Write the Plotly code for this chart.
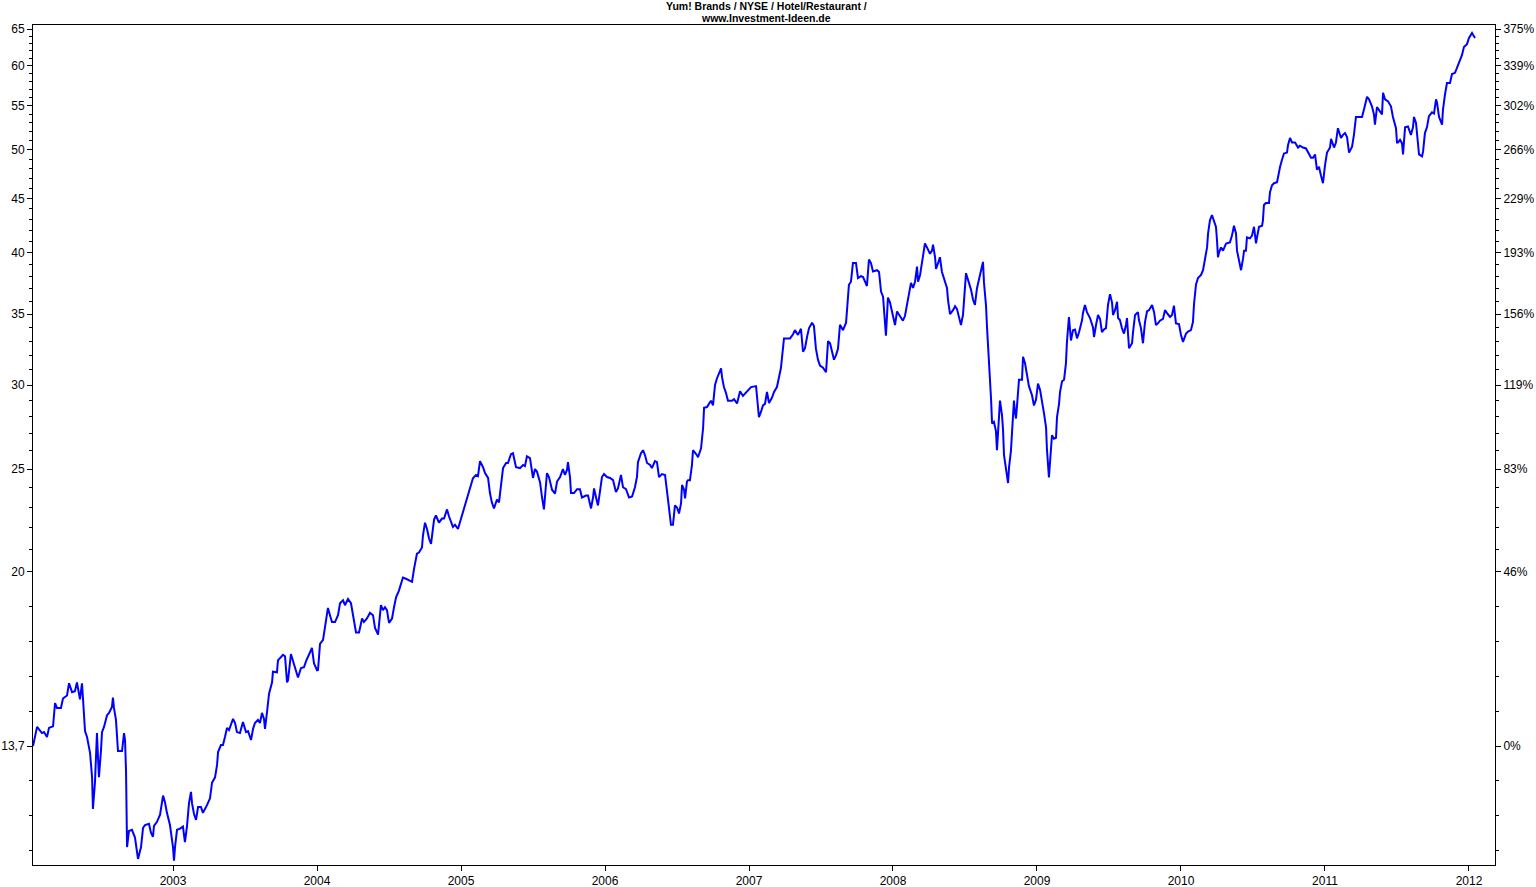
import plotly.graph_objects as go

# (decimal year, closing price)
y2002 = [(2002.028,13.70),(2002.056,14.28),(2002.090,14.09),(2002.104,14.12),(2002.125,13.97),(2002.139,14.25),(2002.167,14.30),(2002.181,15.04),(2002.194,14.88),(2002.222,14.88),(2002.236,15.19),(2002.264,15.29),(2002.278,15.70),(2002.299,15.40),(2002.319,15.43),(2002.333,15.73),(2002.354,15.16),(2002.368,15.70),(2002.375,15.19),(2002.389,14.15),(2002.403,13.97),(2002.424,13.50),(2002.438,12.80),(2002.444,11.95),(2002.458,12.65),(2002.472,14.09),(2002.479,13.38),(2002.486,12.80),(2002.500,13.58),(2002.507,14.12),(2002.521,14.28),(2002.542,14.65),(2002.556,14.72),(2002.576,14.91),(2002.583,15.22),(2002.590,14.88),(2002.604,14.50),(2002.611,13.88),(2002.618,13.55),(2002.646,13.55),(2002.660,14.09),(2002.667,13.88),(2002.674,12.95),(2002.681,11.00),(2002.694,11.39),(2002.715,11.42),(2002.736,11.23),(2002.757,10.72),(2002.778,11.00),(2002.792,11.47),(2002.806,11.54),(2002.833,11.57),(2002.847,11.35),(2002.861,11.25),(2002.868,11.52),(2002.889,11.62),(2002.910,11.80),(2002.931,12.30),(2002.944,12.13),(2002.958,11.85),(2002.979,11.54)]
y2003 = [(2003.000,11.00),(2003.007,10.68),(2003.014,11.00),(2003.028,11.42),(2003.049,11.45),(2003.069,11.50),(2003.083,11.12),(2003.097,11.50),(2003.111,12.10),(2003.125,12.40),(2003.132,12.10),(2003.146,11.82),(2003.160,11.67),(2003.174,12.00),(2003.194,12.00),(2003.208,11.85),(2003.236,12.05),(2003.257,12.23),(2003.271,12.65),(2003.292,12.80),(2003.306,13.15),(2003.313,13.52),(2003.333,13.73),(2003.347,13.73),(2003.361,13.97),(2003.375,14.25),(2003.389,14.18),(2003.417,14.53),(2003.431,14.40),(2003.444,14.12),(2003.465,14.09),(2003.486,14.43),(2003.507,14.12),(2003.521,14.15),(2003.542,13.88),(2003.556,14.22),(2003.569,14.40),(2003.590,14.50),(2003.604,14.40),(2003.618,14.72),(2003.632,14.53),(2003.639,14.22),(2003.653,14.75),(2003.667,15.35),(2003.688,15.73),(2003.694,16.10),(2003.722,16.08),(2003.729,16.50),(2003.764,16.70),(2003.778,16.65),(2003.792,15.73),(2003.799,15.80),(2003.819,16.73),(2003.840,16.40),(2003.854,16.16),(2003.868,15.90),(2003.889,16.23),(2003.910,16.26),(2003.924,16.47),(2003.944,16.70),(2003.965,16.95),(2003.979,16.40)]
y2004 = [(2004.000,16.15),(2004.007,16.16),(2004.021,17.10),(2004.042,17.25),(2004.056,17.70),(2004.076,18.49),(2004.090,18.20),(2004.104,17.93),(2004.125,17.93),(2004.146,18.20),(2004.160,18.68),(2004.181,18.80),(2004.194,18.60),(2004.215,18.85),(2004.236,18.68),(2004.250,18.20),(2004.271,17.53),(2004.292,17.53),(2004.313,18.07),(2004.326,17.93),(2004.347,18.07),(2004.368,18.30),(2004.389,18.20),(2004.403,17.70),(2004.424,17.45),(2004.444,18.60),(2004.458,18.40),(2004.472,18.52),(2004.486,18.40),(2004.500,17.90),(2004.521,18.07),(2004.535,18.52),(2004.549,18.92),(2004.569,19.20),(2004.597,19.75),(2004.618,19.70),(2004.639,19.65),(2004.660,19.57),(2004.674,20.13),(2004.694,20.80),(2004.708,20.85),(2004.729,21.08),(2004.736,21.65),(2004.750,22.25),(2004.764,21.95),(2004.778,21.50),(2004.792,21.25),(2004.806,21.90),(2004.813,22.40),(2004.826,22.60),(2004.847,22.25),(2004.868,22.45),(2004.882,22.45),(2004.903,22.90),(2004.917,22.55),(2004.944,22.05),(2004.958,22.15),(2004.979,21.95)]
y2005 = [(2005.000,22.45),(2005.014,22.75),(2005.042,23.50),(2005.063,23.90),(2005.083,24.50),(2005.104,24.68),(2005.118,24.62),(2005.132,25.43),(2005.153,25.10),(2005.167,24.78),(2005.188,24.52),(2005.201,23.73),(2005.215,23.23),(2005.229,22.95),(2005.250,23.40),(2005.264,23.25),(2005.285,24.57),(2005.292,25.05),(2005.313,25.33),(2005.326,25.33),(2005.347,25.82),(2005.361,25.87),(2005.382,25.10),(2005.410,25.05),(2005.431,25.22),(2005.444,25.16),(2005.458,25.70),(2005.479,25.60),(2005.500,24.52),(2005.514,25.00),(2005.528,24.85),(2005.549,24.28),(2005.563,23.50),(2005.576,22.90),(2005.583,23.50),(2005.597,24.78),(2005.611,24.57),(2005.632,23.90),(2005.653,23.70),(2005.667,24.33),(2005.688,24.57),(2005.708,25.00),(2005.722,24.68),(2005.736,24.95),(2005.743,25.38),(2005.757,24.57),(2005.764,23.73),(2005.785,23.73),(2005.806,23.93),(2005.826,23.93),(2005.840,23.50),(2005.868,23.60),(2005.882,23.60),(2005.896,23.25),(2005.903,22.95),(2005.917,23.50),(2005.924,23.97),(2005.938,23.50),(2005.951,23.10),(2005.965,23.80),(2005.979,24.57),(2005.993,24.73)]
y2006 = [(2006.014,24.57),(2006.035,24.52),(2006.056,24.40),(2006.076,23.78),(2006.090,23.97),(2006.111,24.68),(2006.125,24.03),(2006.146,23.93),(2006.167,23.50),(2006.188,23.55),(2006.208,24.03),(2006.222,24.57),(2006.229,25.38),(2006.250,25.87),(2006.264,26.04),(2006.278,25.76),(2006.292,25.33),(2006.313,25.22),(2006.326,25.05),(2006.347,25.43),(2006.361,25.38),(2006.375,24.57),(2006.396,24.73),(2006.417,24.68),(2006.431,23.90),(2006.444,23.00),(2006.458,22.15),(2006.472,22.15),(2006.486,23.10),(2006.500,23.00),(2006.514,22.70),(2006.528,23.20),(2006.535,24.15),(2006.549,23.90),(2006.556,23.45),(2006.569,24.33),(2006.576,24.40),(2006.590,24.40),(2006.604,25.22),(2006.611,26.04),(2006.639,25.76),(2006.646,25.65),(2006.667,26.15),(2006.681,27.30),(2006.688,28.55),(2006.708,28.60),(2006.722,28.80),(2006.736,29.00),(2006.750,28.70),(2006.764,30.00),(2006.778,30.45),(2006.792,30.80),(2006.806,31.10),(2006.813,30.50),(2006.826,29.87),(2006.840,29.50),(2006.854,29.00),(2006.882,29.00),(2006.896,29.10),(2006.917,28.82),(2006.938,29.60),(2006.958,29.30),(2006.979,29.50)]
y2007 = [(2007.000,29.70),(2007.014,29.87),(2007.049,29.93),(2007.056,29.23),(2007.069,27.98),(2007.083,28.30),(2007.097,28.70),(2007.111,28.80),(2007.125,29.55),(2007.139,28.85),(2007.160,29.20),(2007.174,29.55),(2007.194,29.87),(2007.208,30.50),(2007.222,31.15),(2007.229,31.80),(2007.243,33.20),(2007.264,33.20),(2007.285,33.20),(2007.306,33.50),(2007.319,33.80),(2007.340,33.45),(2007.361,33.90),(2007.375,32.25),(2007.389,32.50),(2007.403,33.30),(2007.417,33.95),(2007.438,34.35),(2007.451,34.10),(2007.465,32.45),(2007.479,31.70),(2007.493,31.30),(2007.514,31.15),(2007.535,30.85),(2007.549,33.00),(2007.563,32.85),(2007.576,32.20),(2007.590,31.70),(2007.604,32.00),(2007.618,32.45),(2007.632,34.20),(2007.653,33.80),(2007.674,34.35),(2007.681,35.55),(2007.688,36.30),(2007.694,37.30),(2007.708,37.55),(2007.722,39.10),(2007.743,39.10),(2007.757,37.85),(2007.778,38.00),(2007.792,37.93),(2007.806,37.55),(2007.819,37.20),(2007.833,39.40),(2007.847,39.10),(2007.861,38.40),(2007.889,38.50),(2007.903,38.35),(2007.917,36.75),(2007.931,36.35),(2007.944,34.70),(2007.951,33.40),(2007.965,36.27),(2007.979,35.90)]
y2008 = [(2008.000,34.85),(2008.014,34.18),(2008.028,35.20),(2008.049,34.85),(2008.069,34.50),(2008.083,34.85),(2008.097,35.65),(2008.111,36.55),(2008.125,37.45),(2008.139,37.05),(2008.153,37.55),(2008.167,38.80),(2008.174,37.55),(2008.188,38.10),(2008.201,39.10),(2008.208,39.90),(2008.222,40.80),(2008.236,40.45),(2008.257,39.90),(2008.271,40.17),(2008.278,40.70),(2008.292,39.60),(2008.299,38.60),(2008.313,39.10),(2008.326,39.60),(2008.340,38.35),(2008.354,37.85),(2008.375,37.05),(2008.382,36.10),(2008.396,35.00),(2008.417,35.30),(2008.431,35.60),(2008.444,35.40),(2008.458,34.78),(2008.472,34.18),(2008.486,34.93),(2008.500,36.90),(2008.507,38.25),(2008.521,37.70),(2008.542,36.90),(2008.556,36.10),(2008.569,35.70),(2008.583,37.00),(2008.597,37.70),(2008.618,38.95),(2008.625,39.20),(2008.632,37.45),(2008.646,35.65),(2008.653,34.00),(2008.660,32.90),(2008.667,31.75),(2008.674,30.75),(2008.681,29.10),(2008.688,27.60),(2008.701,27.70),(2008.715,27.15),(2008.722,26.05),(2008.729,26.98),(2008.736,27.98),(2008.743,29.00),(2008.757,28.10),(2008.764,27.25),(2008.771,25.76),(2008.785,25.00),(2008.799,24.25),(2008.806,25.10),(2008.819,26.00),(2008.826,26.98),(2008.833,27.98),(2008.840,29.00),(2008.847,28.30),(2008.854,27.90),(2008.861,28.65),(2008.868,29.50),(2008.875,30.35),(2008.896,30.35),(2008.903,31.90),(2008.917,31.45),(2008.931,30.60),(2008.944,29.93),(2008.965,29.36),(2008.979,28.70),(2008.993,29.05)]
y2009 = [(2009.007,30.10),(2009.021,29.70),(2009.035,29.05),(2009.049,28.20),(2009.063,27.35),(2009.069,26.10),(2009.083,24.55),(2009.097,26.05),(2009.104,26.90),(2009.118,26.70),(2009.132,26.75),(2009.139,27.98),(2009.153,28.80),(2009.160,29.55),(2009.174,30.25),(2009.188,30.35),(2009.201,31.45),(2009.208,32.95),(2009.215,34.35),(2009.222,34.78),(2009.236,33.05),(2009.250,33.80),(2009.264,33.85),(2009.278,33.20),(2009.292,33.65),(2009.313,34.55),(2009.319,35.07),(2009.333,35.70),(2009.347,35.15),(2009.368,34.70),(2009.389,34.00),(2009.396,33.30),(2009.410,34.18),(2009.424,34.93),(2009.438,34.63),(2009.451,33.65),(2009.465,33.85),(2009.479,33.95),(2009.493,35.70),(2009.507,36.55),(2009.521,35.90),(2009.528,34.93),(2009.542,35.30),(2009.556,35.95),(2009.563,34.70),(2009.576,34.55),(2009.590,33.95),(2009.604,33.55),(2009.618,34.18),(2009.625,34.70),(2009.639,32.50),(2009.660,32.85),(2009.667,33.65),(2009.681,34.93),(2009.701,35.15),(2009.708,34.55),(2009.722,33.95),(2009.736,32.85),(2009.750,34.40),(2009.764,35.20),(2009.778,35.30),(2009.799,35.70),(2009.813,35.15),(2009.826,34.18),(2009.840,34.30),(2009.854,34.50),(2009.875,34.63),(2009.889,35.30),(2009.903,35.07),(2009.924,34.78),(2009.938,34.93),(2009.951,35.65),(2009.965,34.30),(2009.986,34.25)]
y2010 = [(2010.000,33.45),(2010.014,32.95),(2010.035,33.55),(2010.049,33.70),(2010.069,33.80),(2010.083,34.40),(2010.090,35.70),(2010.104,37.30),(2010.118,37.85),(2010.139,38.10),(2010.153,38.50),(2010.167,39.50),(2010.181,40.45),(2010.188,41.70),(2010.201,42.90),(2010.215,43.40),(2010.229,42.80),(2010.243,42.30),(2010.250,41.10),(2010.257,39.60),(2010.264,40.00),(2010.278,40.45),(2010.292,40.17),(2010.313,40.80),(2010.340,40.90),(2010.354,41.50),(2010.368,42.40),(2010.382,41.70),(2010.389,40.17),(2010.403,39.40),(2010.417,38.50),(2010.431,39.50),(2010.438,40.17),(2010.451,40.17),(2010.458,41.35),(2010.479,41.25),(2010.493,41.50),(2010.507,42.30),(2010.521,40.80),(2010.528,41.35),(2010.542,42.30),(2010.563,42.40),(2010.569,42.90),(2010.576,44.35),(2010.590,44.55),(2010.611,44.55),(2010.618,45.60),(2010.632,46.30),(2010.646,46.50),(2010.667,46.60),(2010.674,47.20),(2010.688,48.20),(2010.701,48.90),(2010.715,49.60),(2010.736,49.70),(2010.743,50.50),(2010.757,51.30),(2010.771,50.80),(2010.792,50.80),(2010.813,50.25),(2010.826,50.45),(2010.847,50.25),(2010.868,50.15),(2010.882,49.70),(2010.903,49.15),(2010.917,49.15),(2010.931,49.50),(2010.944,47.90),(2010.958,48.20),(2010.972,47.30),(2010.986,46.50)]
y2011 = [(2011.000,48.35),(2011.014,49.70),(2011.035,50.25),(2011.042,51.20),(2011.063,50.25),(2011.076,50.80),(2011.090,52.40),(2011.111,51.30),(2011.125,51.65),(2011.139,51.85),(2011.153,51.40),(2011.167,49.70),(2011.188,50.35),(2011.201,51.65),(2011.215,53.70),(2011.257,53.70),(2011.271,54.60),(2011.292,56.10),(2011.306,55.80),(2011.326,54.95),(2011.340,54.00),(2011.347,52.80),(2011.361,54.85),(2011.382,54.25),(2011.396,54.00),(2011.403,56.60),(2011.417,55.80),(2011.438,55.55),(2011.458,54.95),(2011.472,53.70),(2011.493,52.40),(2011.500,50.80),(2011.507,50.80),(2011.521,51.10),(2011.535,50.70),(2011.542,49.50),(2011.549,50.80),(2011.556,52.50),(2011.576,52.60),(2011.590,51.95),(2011.597,51.65),(2011.611,52.50),(2011.618,53.70),(2011.632,53.00),(2011.639,51.85),(2011.653,49.50),(2011.674,49.30),(2011.681,49.80),(2011.694,51.85),(2011.708,52.50),(2011.722,53.80),(2011.743,54.25),(2011.757,54.10),(2011.771,55.80),(2011.778,55.40),(2011.792,53.70),(2011.813,52.80),(2011.819,54.50),(2011.833,56.35),(2011.847,57.80),(2011.868,57.80),(2011.882,58.95),(2011.903,59.10),(2011.917,59.70),(2011.931,60.50),(2011.951,61.40),(2011.965,62.50),(2011.986,62.90)]
y2012 = [(2012.000,63.75),(2012.021,64.45),(2012.028,64.20),(2012.042,63.75)]

year_ticks = [2003, 2004, 2005, 2006, 2007, 2008, 2009, 2010, 2011, 2012]
price_ticks = [13.7, 20, 25, 30, 35, 40, 45, 50, 55, 60, 65]
price_labels = ["13,7", "20", "25", "30", "35", "40", "45", "50", "55", "60", "65"]
pct_labels = ["0%", "46%", "83%", "119%", "156%", "193%", "229%", "266%", "302%", "339%", "375%"]
# minor ticks: five equal log steps between 13,7 and 20 (continued below 13,7), then every whole unit
minor_low = [10.92, 11.78, 12.70, 14.78, 15.94, 17.19, 18.54]
minor_high = [v for v in range(21, 65) if v not in price_ticks]
minor_ticks = minor_low + minor_high

title_l1 = "Yum! Brands / NYSE / Hotel/Restaurant /"
title_l2 = "www.Investment-Ideen.de"

rows = y2002 + y2003 + y2004 + y2005 + y2006 + y2007 + y2008 + y2009 + y2010 + y2011 + y2012
t = [r[0] for r in rows]
p = [r[1] for r in rows]

X_RANGE = [2002.0278, 2012.1806]
Y_RANGE = [1.02450, 1.81669]
FONT = "Liberation Sans, Arial, sans-serif"

fig = go.Figure()
fig.add_trace(go.Scatter(x=t, y=p, mode="lines", line=dict(color="#0000FF", width=2),
                         showlegend=False, hoverinfo="x+y"))
fig.add_trace(go.Scatter(x=t, y=p, mode="lines", line=dict(color="rgba(0,0,0,0)", width=0),
                         yaxis="y2", showlegend=False, hoverinfo="skip"))

axis_common = dict(showgrid=False, zeroline=False, showline=True, linecolor="black",
                   linewidth=1, ticks="outside", ticklen=5, tickwidth=1, tickcolor="black",
                   automargin=False,
                   tickfont=dict(family=FONT, size=12, color="black"))
minor_common = dict(tickmode="array", tickvals=minor_ticks, ticks="outside",
                    ticklen=3, tickcolor="black", tickwidth=1, showgrid=False)

fig.update_layout(
    width=1536, height=887, autosize=False,
    margin=dict(l=33, r=41, t=25, b=22, pad=0),
    paper_bgcolor="white", plot_bgcolor="white",
    xaxis=dict(range=X_RANGE, tickmode="array", tickvals=year_ticks,
               ticktext=[str(y) for y in year_ticks], mirror=True, **axis_common),
    yaxis=dict(type="log", range=Y_RANGE, tickmode="array", tickvals=price_ticks,
               ticktext=price_labels, mirror=True, minor=minor_common, **axis_common),
    yaxis2=dict(type="log", range=Y_RANGE, overlaying="y", side="right", anchor="x",
                tickmode="array", tickvals=price_ticks, ticktext=pct_labels,
                minor=minor_common, **axis_common),
    annotations=[
        dict(text="<b>" + title_l1 + "</b>", xref="paper", yref="paper", x=0.5014, y=1.0226,
             xanchor="center", yanchor="middle", showarrow=False,
             font=dict(family=FONT, size=10.5, color="black")),
        dict(text="<b>" + title_l2 + "</b>", xref="paper", yref="paper", x=0.5014, y=1.0083,
             xanchor="center", yanchor="middle", showarrow=False,
             font=dict(family=FONT, size=10.5, color="black")),
    ],
)

fig.write_html("out.html", config={"displayModeBar": False},
               post_script="document.body.style.margin='0';document.body.style.overflow='hidden';")
